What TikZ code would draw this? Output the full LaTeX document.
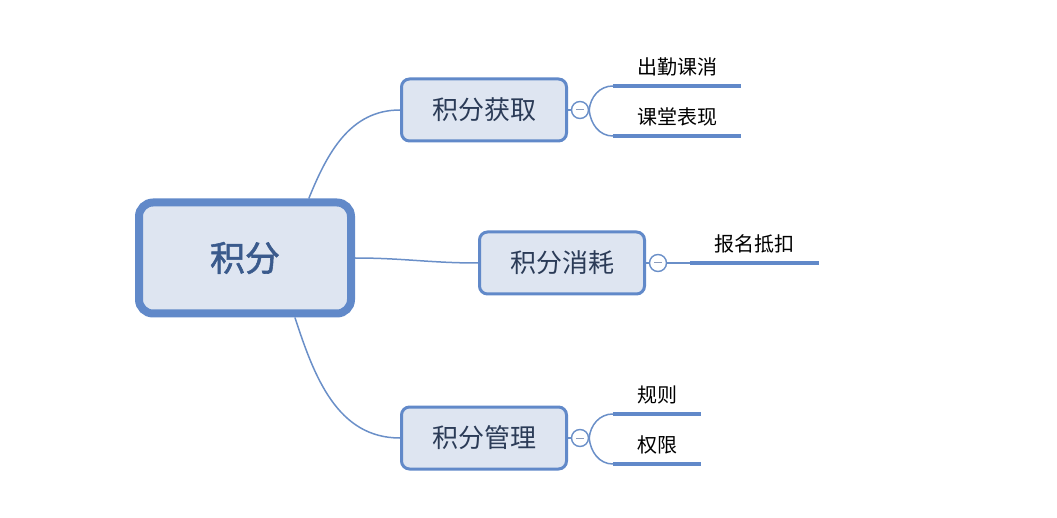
\documentclass[tikz,border=0pt]{standalone}
\usepackage{fontspec}
\newfontfamily\cjk{Noto Sans CJK SC}
\newfontfamily\cjkbold[FakeBold=1.6]{Noto Sans CJK SC}
\usetikzlibrary{backgrounds}
\definecolor{boxline}{HTML}{6189C9}
\definecolor{boxfill}{HTML}{DEE5F1}
\definecolor{rootink}{HTML}{3A5A8C}
\definecolor{boxink}{HTML}{2B3B57}
\definecolor{wire}{HTML}{6A8FC8}
\definecolor{dashink}{HTML}{8C9CBC}
\begin{document}
\begin{tikzpicture}[x=1pt,y=1pt,
    rootbox/.style={draw=boxline,fill=boxfill,line width=8pt,rounded corners=14pt,
      minimum width=212pt,minimum height=111pt,text=rootink,font=\cjkbold\fontsize{35}{41}\selectfont},
    topicbox/.style={draw=boxline,fill=boxfill,line width=3pt,rounded corners=8pt,
      minimum width=165pt,minimum height=62pt,text=boxink,font=\cjk\fontsize{26}{31}\selectfont},
    fold/.style={circle,draw=wire,fill=white,line width=1.4pt,minimum size=17pt,inner sep=0pt},
    leaf/.style={anchor=south,inner xsep=0pt,inner ysep=10pt,font=\cjk\fontsize{20}{24}\selectfont},
    leafline/.style={draw=boxline,line width=4pt},
    wireline/.style={draw=wire,line width=1.5pt}]
  \useasboundingbox (0,0) rectangle (1057,517);
  % main node and topics
  \node at (245,259) [rootbox] (root) {积分};
  \node at (484,407) [topicbox] (gain) {积分获取};
  \node at (562,254) [topicbox] (spend) {积分消耗};
  \node at (484,79) [topicbox] (manage) {积分管理};
  % fold buttons
  \node at (580,407) [fold] (gainfold) {};
  \node at (658,254) [fold] (spendfold) {};
  \node at (580,79) [fold] (managefold) {};
  \foreach \f in {gainfold,spendfold,managefold}
    \draw[dashink,line width=1pt] ([xshift=-4pt]\f.center) -- ([xshift=4pt]\f.center);
  % leaves
  \node at (677,431) [leaf,minimum width=128pt] (attend) {出勤课消};
  \node at (677,381) [leaf,minimum width=128pt] (perform) {课堂表现};
  \node at (754.5,254) [leaf,minimum width=129pt] (signup) {报名抵扣};
  \node at (657,103) [leaf,minimum width=88pt] (rules) {规则};
  \node at (657,53) [leaf,minimum width=88pt] (rights) {权限};
  \foreach \l in {attend,perform,signup,rules,rights}
    \draw[leafline] (\l.south west) -- (\l.south east);
  % connectors
  \begin{pgfonlayer}{background}
    \draw[wireline] (root.43) to[out=68,in=180] (gain.west);
    \draw[wireline] (root.east) to[out=0,in=180] (spend.west);
    \draw[wireline] (root.-50) to[out=-72,in=180] (manage.west);
    \draw[wireline] (gain.east) -- (gainfold.west);
    \draw[wireline] (spend.east) -- (spendfold.west);
    \draw[wireline] (manage.east) -- (managefold.west);
    \draw[wireline] (gainfold.east) to[out=85,in=180] (attend.south west);
    \draw[wireline] (gainfold.east) to[out=-85,in=180] (perform.south west);
    \draw[wireline] (spendfold.east) -- (signup.south west);
    \draw[wireline] (managefold.east) to[out=85,in=180] (rules.south west);
    \draw[wireline] (managefold.east) to[out=-85,in=180] (rights.south west);
  \end{pgfonlayer}
\end{tikzpicture}
\end{document}
